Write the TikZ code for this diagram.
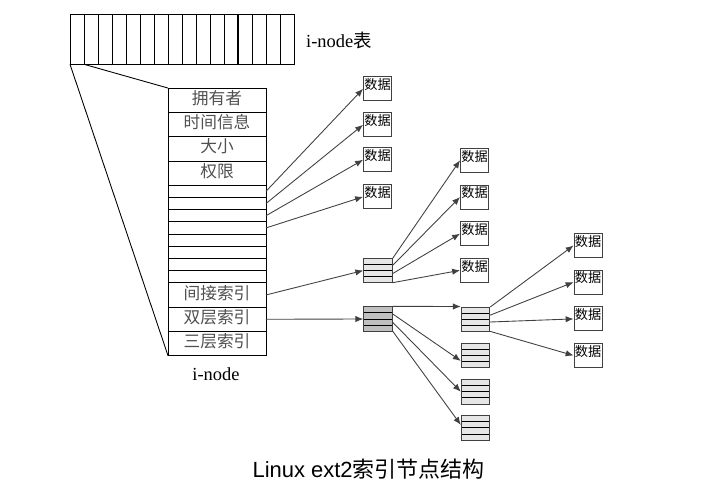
\documentclass[tikz,border=0pt]{standalone}
\usepackage{fontspec}
\setmainfont{Liberation Serif}
\newfontfamily\cjk{Noto Sans CJK SC}
\newfontfamily\capfont{Liberation Sans}
\usetikzlibrary{positioning,arrows.meta,calc}

\definecolor{lightblk}{HTML}{E6E6E6}
\definecolor{darkblk}{HTML}{C0C0C0}
\definecolor{linegray}{HTML}{404040}
\definecolor{textgray}{HTML}{505050}

\tikzset{
  cell/.style={draw, line width=0.5pt, minimum width=0.28cm, minimum height=1cm, inner sep=0pt, outer sep=0pt},
  row/.style={draw, line width=0.5pt, minimum width=1.96cm, minimum height=0.486cm, inner sep=0pt, outer sep=0pt,
    font=\fontsize{9.5}{9.5}\cjk, text=textgray, text height=9.2pt, text depth=4.6pt},
  slot/.style={draw, line width=0.5pt, minimum width=1.96cm, minimum height=0.244cm, inner sep=0pt, outer sep=0pt},
  datum/.style={draw=linegray, line width=0.5pt, minimum width=0.56cm, minimum height=0.48cm, inner sep=0pt,
    font=\fontsize{7.5}{7.5}\cjk, text height=7.2pt, text depth=6.4pt},
  idxblk/.style={draw=linegray, fill=lightblk, line width=0.5pt, minimum width=0.57cm, minimum height=0.49cm, inner sep=0pt,
    path picture={\foreach \k in {1,2,3}
      \draw[black, line width=0.5pt]
        ($(path picture bounding box.north west)!\k/4!(path picture bounding box.south west)$) --
        ($(path picture bounding box.north east)!\k/4!(path picture bounding box.south east)$);}},
  link/.style={draw=linegray, line width=0.5pt, -{Latex[length=4.5pt,width=3.6pt]}},
}

\begin{document}
\begin{tikzpicture}[x=0.02cm, y=-0.02cm]
    \useasboundingbox (0,0) rectangle (703,484);

    %% i-node table
    \foreach \i in {1,...,16}
        \node[cell] (c\i) at ({70+14*(\i-0.5)},39.3) {};
    \draw[line width=0.8pt] (c12.south east) -- (c12.north east);
    \node[anchor=west, font=\fontsize{10.5}{10.5}\selectfont] (tbllbl) at (300,40) {i-node{\cjk 表}};

    %% one i-node
    \node[row] (r1) at (217,100.2) {拥有者};
    \node[row, below=0pt of r1] (r2) {时间信息};
    \node[row, below=0pt of r2] (r3) {大小};
    \node[row, below=0pt of r3] (r4) {权限};
    \node[slot, below=0pt of r4] (s1) {};
    \foreach \i [count=\j from 2] in {1,...,7}
        \node[slot, below=0pt of s\i] (s\j) {};
    \node[row, below=0pt of s8] (x1) {间接索引};
    \node[row, below=0pt of x1] (x2) {双层索引};
    \node[row, below=0pt of x2] (x3) {三层索引};
    \node[font=\fontsize{10.5}{10.5}\selectfont] (inodelbl) at (216,374) {i-node};

    \draw[line width=0.5pt] (c1.south west) -- (x3.south west);
    \draw[line width=0.5pt] (c1.south east) -- (r1.north west);

    %% data blocks
    \foreach \i/\y in {1/88.8,2/124.8,3/159.8,4/196.8}
        \node[datum] (da\i) at (377.5,\y) {数据};
    \foreach \i/\y in {1/160.3,2/197,3/233.7,4/270.3}
        \node[datum] (db\i) at (474.5,\y) {数据};
    \foreach \i/\y in {1/245.5,2/282.2,3/318.9,4/355.5}
        \node[datum] (dc\i) at (588,\y) {数据};

    %% index blocks
    \node[idxblk] (sgl) at (378,270.5) {};
    \node[idxblk, fill=darkblk] (dbl) at (378,319) {};
    \foreach \i/\y in {1/319.2,2/355.3,3/391.7,4/427.9}
        \node[idxblk] (lv\i) at (475.5,\y) {};

    %% pointers
    \foreach \i in {1,...,4}
        \draw[link] (s\i.east) -- (da\i.west);
    \draw[link] (x1.east) -- (sgl.west);
    \draw[link] (x2.east) -- (dbl.west);
    \foreach \i/\f in {1/0.02,2/0.3,3/0.62,4/0.98}
        \draw[link] ($(sgl.north east)!\f!(sgl.south east)$) -- (db\i.west);
    \draw[link] (dbl.north east) -- (lv1.north west);
    \foreach \i/\f/\g in {2/0.3/0.72,3/0.63/0.5,4/0.98/0.38}
        \draw[link] ($(dbl.north east)!\f!(dbl.south east)$) -- ($(lv\i.north west)!\g!(lv\i.south west)$);
    \foreach \i/\f in {1/0.02,2/0.34,3/0.61,4/0.98}
        \draw[link] ($(lv1.north east)!\f!(lv1.south east)$) -- (dc\i.west);

    %% caption
    \node[font=\fontsize{12.5}{12.5}\capfont] (caption) at (368.5,469) {Linux ext2{\cjk 索引节点结构}};
\end{tikzpicture}
\end{document}
